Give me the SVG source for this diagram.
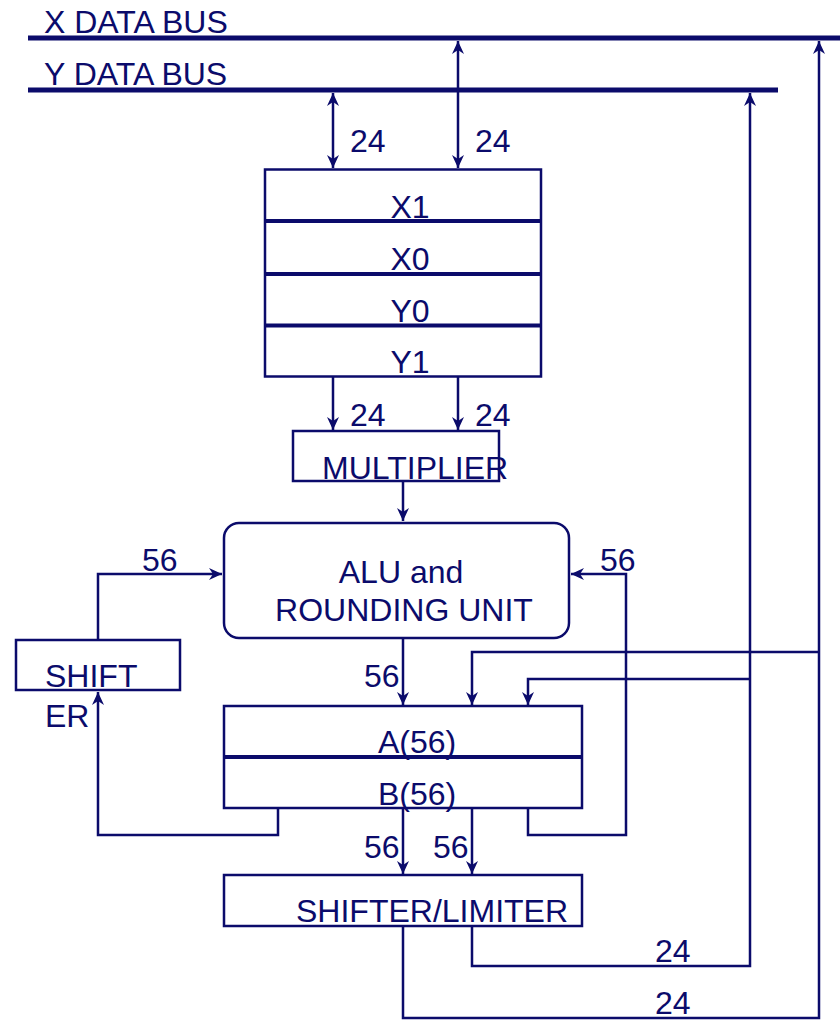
<svg xmlns="http://www.w3.org/2000/svg" width="840" height="1020" viewBox="0 0 840 1020">
<style>
.t{font-family:"Liberation Sans",Arial,sans-serif;font-size:32px;fill:#0b0b6b}
.tm{text-anchor:middle}
.box{fill:#ffffff;stroke:#0b0b6b;stroke-width:2.5}
.div{stroke:#0b0b6b;stroke-width:4}
.bus{stroke:#0b0b6b;stroke-width:5}
.c{fill:none;stroke:#0b0b6b;stroke-width:2.5}
.a{marker-end:url(#arr)}
.aa{marker-end:url(#arr);marker-start:url(#arr)}
</style>
<defs>
<marker id="arr" viewBox="0 0 13 12" refX="13" refY="6" markerWidth="13" markerHeight="12" markerUnits="userSpaceOnUse" orient="auto-start-reverse">
<path d="M0,0 L13,6 L0,12 L4,6 Z" fill="#0b0b6b"/>
</marker>
</defs>
<rect width="840" height="1020" fill="#ffffff"/>

<g id="x-bus">
<line class="bus" x1="28" y1="38" x2="840" y2="38"/>
<text class="t" x="44" y="33">X DATA BUS</text>
</g>
<g id="y-bus">
<line class="bus" x1="28" y1="90" x2="778" y2="90"/>
<text class="t" x="44" y="85">Y DATA BUS</text>
</g>

<g id="registers">
<rect class="box" x="265" y="169.5" width="276" height="207"/>
<line class="div" x1="265" y1="221" x2="541" y2="221"/>
<line class="div" x1="265" y1="274" x2="541" y2="274"/>
<line class="div" x1="265" y1="325.5" x2="541" y2="325.5"/>
<text class="t tm" x="410" y="218">X1</text>
<text class="t tm" x="410" y="270">X0</text>
<text class="t tm" x="410" y="322">Y0</text>
<text class="t tm" x="410" y="373">Y1</text>
</g>

<g id="multiplier">
<rect class="box" x="293" y="431" width="206" height="50"/>
<text class="t" x="322" y="479">MULTIPLIER</text>
</g>

<g id="alu">
<rect class="box" x="224" y="523" width="345" height="115" rx="15"/>
<text class="t tm" x="401" y="583">ALU and</text>
<text class="t tm" x="404" y="621">ROUNDING UNIT</text>
</g>

<g id="shifter">
<rect class="box" x="16" y="640" width="164" height="50"/>
<text class="t" x="45" y="687">SHIFT</text>
<text class="t" x="45" y="727">ER</text>
</g>

<g id="accumulators">
<rect class="box" x="224" y="706" width="358" height="102"/>
<line class="div" x1="224" y1="757" x2="582" y2="757"/>
<text class="t tm" x="417" y="753">A(56)</text>
<text class="t tm" x="417" y="805">B(56)</text>
</g>

<g id="shifter-limiter">
<rect class="box" x="224" y="875" width="358" height="51"/>
<text class="t" x="296" y="922">SHIFTER/LIMITER</text>
</g>

<g id="connectors">
<line class="c aa" x1="333" y1="93" x2="333" y2="168"/>
<line class="c aa" x1="458" y1="41" x2="458" y2="168"/>
<text class="t" x="350" y="152">24</text>
<text class="t" x="475" y="152">24</text>

<line class="c a" x1="333" y1="377" x2="333" y2="430"/>
<line class="c a" x1="458" y1="377" x2="458" y2="430"/>
<text class="t" x="350" y="426">24</text>
<text class="t" x="475" y="426">24</text>

<line class="c a" x1="403" y1="481" x2="403" y2="521"/>

<polyline class="c a" points="98,640 98,574 222,574"/>
<text class="t" x="142" y="571">56</text>
<polyline class="c a" points="278,808 278,835 98,835 98,692"/>

<polyline class="c a" points="528,808 528,835 626,835 626,574 571,574"/>
<text class="t" x="600" y="571">56</text>

<line class="c a" x1="403" y1="638" x2="403" y2="705"/>
<text class="t" x="364" y="687">56</text>

<polyline class="c a" points="819,652 472,652 472,705"/>
<polyline class="c a" points="750,679 528,679 528,705"/>

<line class="c a" x1="403" y1="808" x2="403" y2="874"/>
<line class="c a" x1="472" y1="808" x2="472" y2="874"/>
<text class="t" x="364" y="858">56</text>
<text class="t" x="433" y="858">56</text>

<polyline class="c a" points="472,926 472,966 750,966 750,93"/>
<text class="t" x="655" y="962">24</text>
<polyline class="c a" points="403,926 403,1018 819,1018 819,41"/>
<text class="t" x="655" y="1014">24</text>
</g>
</svg>
